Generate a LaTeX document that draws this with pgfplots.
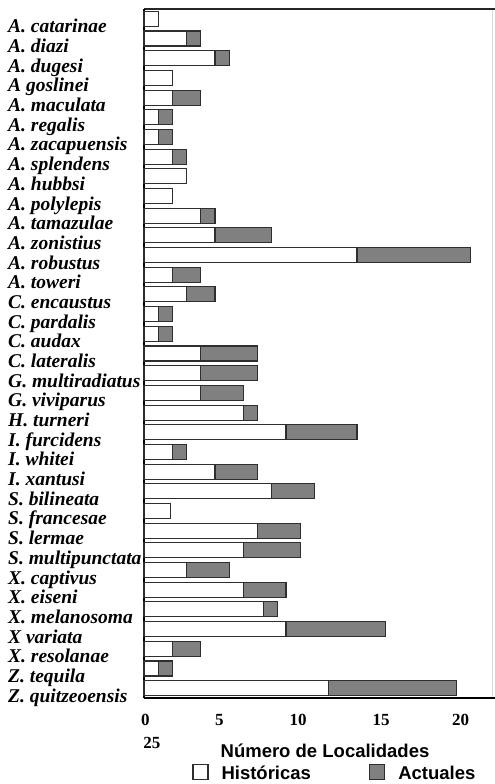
\documentclass[border=0pt]{standalone}
\usepackage{fontspec}
\setmainfont{Liberation Serif}
\newfontfamily\sansb{Liberation Sans}
\usepackage{pgfplots}
\usepackage{pgfplotstable}
\pgfplotsset{compat=1.18}
\definecolor{barline}{HTML}{2E2E2E}
\definecolor{actgray}{HTML}{808080}
\pgfplotstableread{
y hist act
34 1 0
33 3 1
32 5 1
31 2 0
30 2 2
29 1 1
28 1 1
27 2 1
26 3 0
25 2 0
24 4 1
23 5 4
22 15 8
21 2 2
20 3 2
19 1 1
18 1 1
17 4 4
16 4 4
15 4 3
14 7 1
13 10 5
12 2 1
11 5 3
10 9 3
9 1.85 0
8 8 3
7 7 4
6 3 3
5 7 3
4 8.4 1
3 10 7
2 2 2
1 1 1
0 13 9
}\data
\begin{document}
\begin{tikzpicture}
\begin{axis}[
  at={(144pt,86pt)}, anchor=south west,
  scale only axis, width=351pt, height=689pt,
  clip=false,
  xbar stacked, bar width=15pt,
  xmin=0, xmax=24.72, ymin=-0.5, ymax=34.5,
  axis line style={draw=none},
  xtick={0.1,5.3,10.85,16.7,22.3},
  xticklabels={0,5,10,15,20},
  xtick style={draw=none}, ytick style={draw=none},
  xticklabel style={font=\bfseries\fontsize{17}{18}\selectfont, inner sep=0pt, anchor=north, yshift=-16pt},
  ytick={0,...,34},
  yticklabels={Z. quitzeoensis, Z. tequila, X. resolanae, X variata, X. melanosoma, X. eiseni, X. captivus, S. multipunctata, S. lermae, S. francesae, S. bilineata, I. xantusi, I. whitei, I. furcidens, H. turneri, G. viviparus, G. multiradiatus, C. lateralis, C. audax, C. pardalis, C. encaustus, A. toweri, A. robustus, A. zonistius, A. tamazulae, A. polylepis, A. hubbsi, A. splendens, A. zacapuensis, A. regalis, A. maculata, A goslinei, A. dugesi, A. diazi, A. catarinae},
  yticklabel style={font=\bfseries\itshape\fontsize{19.5}{20}\selectfont, inner sep=0pt, anchor=base west, xshift=-136pt, yshift=-14pt},
  legend columns=2,
  legend cell align=left,
  legend style={at={(axis description cs:0.1368,-0.1081)}, anchor=west, draw=none, fill=none,
    inner sep=0pt, nodes={inner sep=0pt},
    font=\sansb\bfseries\fontsize{18.5}{20}\selectfont,
    /tikz/every odd column/.append style={column sep=13pt},
    /tikz/every even column/.append style={column sep=58pt}},
]
\addplot[fill=white, draw=barline, line width=1.1pt,
  legend image code/.code={\draw[fill=white, draw=barline, line width=1.3pt] (0pt,-6pt) rectangle (15pt,9pt);}]
  table[x=hist, y=y] {\data};
\addlegendentry{Históricas}
\addplot[fill=actgray, draw=barline, line width=1.1pt,
  legend image code/.code={\draw[fill=actgray, draw=barline, line width=1.3pt] (0pt,-6pt) rectangle (15pt,9pt);}]
  table[x=act, y=y] {\data};
\addlegendentry{Actuales}
\draw[black, line width=1.4pt] (rel axis cs:0,0) -- (rel axis cs:0,1);
\draw[black, line width=1.4pt] (rel axis cs:0,0) -- (rel axis cs:1,0);
\draw[black!85, line width=2.2pt] (rel axis cs:0,1) -- (rel axis cs:1,1);
\draw[black!15, line width=0.5pt] (rel axis cs:0.9915,0) -- (rel axis cs:0.9915,1);
\node[font=\bfseries\fontsize{17}{18}\selectfont, inner sep=0pt, anchor=north] at (axis cs:0.55,-0.5) [yshift=-39pt] {25};
\end{axis}
\node[anchor=base, inner sep=0pt, font=\sansb\bfseries\fontsize{18.5}{20}\selectfont] at (325pt,27pt) {Número de Localidades};
\pgfresetboundingbox
\path[use as bounding box] (0,0) rectangle (495pt,784pt);
\end{tikzpicture}
\end{document}
